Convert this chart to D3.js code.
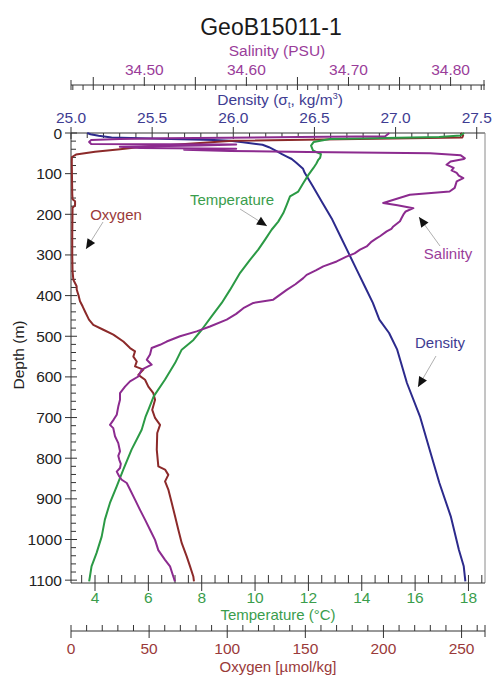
<!DOCTYPE html>
<html>
<head>
<meta charset="utf-8">
<script src="https://cdn.jsdelivr.net/npm/d3@7"></script>
<style>
  body { margin: 0; background: #fff; }
  svg { display: block; }
  text { font-family: "Liberation Sans", Arial, Helvetica, sans-serif; }
</style>
</head>
<body>
<svg id="chart" width="494" height="675"></svg>
<script>
// CTD station GeoB15011-1: profiles as [depth (m), value]
const temperatureProfile = [
  [0,17.84],[6,17.7],[10,16.9],[15,12.8],[22,12.2],[31,12.1],[43,12.17],[52,12.47],[61,12.44],
  [66,12.37],[75,12.3],[86,12.19],[103,12.0],[123,11.81],[144,11.62],[156,11.31],[176,11.19],
  [197,11.06],[218,10.87],[238,10.62],[263,10.37],[287,10.12],[312,9.81],[344,9.44],[386,9.06],
  [418,8.75],[451,8.37],[484,8.0],[509,7.69],[533,7.25],[566,7.0],[607,6.62],[648,6.2],[681,6.0],
  [697,5.9],[730,5.75],[779,5.37],[828,5.06],[870,4.81],[910,4.56],[951,4.37],[993,4.25],
  [1033,4.06],[1066,3.87],[1091,3.81],[1103,3.78]
];

const salinityProfile = [
  [0,34.740],[8,34.736],[10,34.652],[13,34.521],[15,34.476],[17,34.448],[22,34.446],[27,34.448],
  [28,34.590],[31,34.555],[34,34.476],[37,34.496],[39,34.590],[41,34.539],[44,34.584],[47,34.66],
  [50,34.78],[55,34.81],[62,34.814],[64,34.813],[70,34.800],[78,34.796],[86,34.803],[92,34.801],
  [98,34.806],[105,34.808],[111,34.8125],[119,34.806],[127,34.805],[135,34.804],[144,34.799],
  [152,34.760],[172,34.734],[178,34.748],[185,34.7635],[193,34.756],[201,34.7537],[209,34.752],
  [217,34.7504],[230,34.7439],[236,34.742],[242,34.7374],[254,34.7308],[260,34.727],[267,34.7227],
  [279,34.7178],[287,34.7113],[296,34.706],[304,34.698],[316,34.6884],[328,34.6753],[338,34.668],
  [349,34.659],[357,34.6557],[372,34.648],[386,34.6395],[410,34.6263],[418,34.6068],[431,34.597],
  [445,34.590],[459,34.5807],[476,34.5643],[488,34.5513],[500,34.535],[513,34.5219],[521,34.5154],
  [529,34.5072],[545,34.5056],[558,34.5024],[570,34.5072],[582,34.4975],[599,34.4941],[611,34.486],
  [624,34.4811],[640,34.4762],[656,34.4762],[673,34.4745],[693,34.473],[705,34.470],[718,34.4664],
  [726,34.4696],[746,34.4713],[763,34.4745],[783,34.4762],[794,34.4745],[804,34.4755],[814,34.4770],
  [824,34.4762],[833,34.473],[845,34.4755],[853,34.4779],[861,34.4828],[877,34.486],[902,34.4909],
  [927,34.4958],[951,34.5007],[976,34.5056],[1001,34.5105],[1026,34.5137],[1050,34.5203],
  [1066,34.5252],[1091,34.5284],[1103,34.53]
];

const densityProfile = [
  [0,25.10],[3,25.12],[7,25.17],[11,25.25],[14,25.55],[17,25.88],[19,25.98],[23,26.06],[29,26.18],
  [35,26.22],[45,26.27],[52,26.30],[58,26.33],[64,26.36],[74,26.39],[88,26.43],[98,26.44],
  [131,26.49],[172,26.55],[213,26.61],[254,26.66],[295,26.71],[336,26.76],[377,26.81],[418,26.86],
  [459,26.90],[492,26.96],[533,27.01],[615,27.07],[697,27.15],[779,27.21],[861,27.27],[943,27.34],
  [1025,27.39],[1066,27.42],[1103,27.43]
];

const oxygenProfile = [
  [0,249.6],[6,251],[11,250.5],[19,103.5],[35,42.7],[40,31.4],[46,15.4],[53,3.2],[59,0.6],[70,0.5],
  [100,0.6],[150,0.8],[163,1.0],[168,2.6],[178,2.6],[184,1.0],[250,0.8],[300,0.8],[340,1.0],
  [361,1.5],[377,3.6],[385,3.65],[402,5.0],[414,5.76],[427,7.5],[439,8.96],[459,11.5],[472,14.27],
  [484,20.7],[496,27.1],[513,33.5],[529,37.8],[537,41],[550,39.9],[562,42.1],[574,41],[582,46.3],
  [595,43.1],[607,47.4],[624,49.5],[640,52.7],[656,53.8],[681,52],[701,53.8],[718,57.0],[738,55.2],
  [779,54.9],[820,55.9],[828,60.2],[841,62.3],[857,60.2],[877,62.3],[910,64.5],[943,66.6],
  [976,68.7],[1009,70.9],[1042,74.1],[1066,76.2],[1091,78.3],[1103,78.7]
];

// Tick labels per axis
const depthTicks = [0,100,200,300,400,500,600,700,800,900,1000,1100];
const salinityTicks = [34.50,34.60,34.70,34.80];
const densityTicks = [25.0,25.5,26.0,26.5,27.0,27.5];
const temperatureTicks = [4,6,8,10,12,14,16,18];
const oxygenTicks = [0,50,100,150,200,250];

const colors = {
  temperature: "#2b9a45", temperatureText: "#3a9d4c",
  salinity: "#8c2b8f", salinityText: "#9a3d9a",
  density: "#2c2a8c", densityText: "#3e3c92",
  oxygen: "#8c2a2a", oxygenText: "#9a3a3a",
  axis: "#333"
};

const L = 71, R = 485, T = 133, B = 583;
const y = d3.scaleLinear().domain([0, 1107]).range([T, B]);
const xT = d3.scaleLinear().domain([3.1, 18.62]).range([L, R]);
const xS = d3.scaleLinear().domain([34.4282, 34.8337]).range([L, R]);
const xD = d3.scaleLinear().domain([25, 27.551]).range([L, R]);
const xO = d3.scaleLinear().domain([0, 265]).range([L, R]);
const identity = d => d;

const svg = d3.select("#chart");

// Title
svg.append("text").attr("x", 271).attr("y", 35).attr("text-anchor", "middle")
  .attr("font-size", 23).attr("fill", "#1a1a1a").text("GeoB15011-1");

// Helpers for the horizontal axes
function hTicks(g, scale, values, yPos, up, down) {
  g.selectAll(null).data(values).join("line")
    .attr("x1", d => scale(d)).attr("x2", d => scale(d))
    .attr("y1", yPos - up).attr("y2", yPos + down)
    .attr("stroke", colors.axis).attr("stroke-width", 1);
}
function hLine(g, yPos) {
  g.append("line").attr("x1", L).attr("x2", R).attr("y1", yPos).attr("y2", yPos)
    .attr("stroke", colors.axis).attr("stroke-width", 1);
}
function hLabels(g, scale, values, yBase, fmt, fill, size) {
  g.selectAll(null).data(values).join("text")
    .attr("x", d => scale(d)).attr("y", yBase).attr("text-anchor", "middle")
    .attr("font-size", size || 15.5).attr("fill", fill).text(fmt);
}

// Salinity axis (top)
const gS = svg.append("g");
const sY = 85;
hLine(gS, sY);
hTicks(gS, xS, d3.range(3443, 3484).filter(v => v % 5 !== 0).map(v => v / 100), sY, 0, 5);
hTicks(gS, xS, d3.range(3445, 3484, 10).map(v => v / 100), sY, 8, 5);
hTicks(gS, xS, salinityTicks, sY, 8, 1);
hTicks(gS, identity, [L, R - 1], sY, 5, 5);
hLabels(gS, xS, salinityTicks, 75, d3.format(".2f"), colors.salinityText);
gS.append("text").attr("x", 277).attr("y", 56).attr("text-anchor", "middle")
  .attr("font-size", 15.5).attr("fill", colors.salinityText).text("Salinity (PSU)");

// Density axis (top of plot)
const gD = svg.append("g");
hLine(gD, T);
hTicks(gD, xD, d3.range(251, 276).filter(v => v % 5 !== 0).map(v => v / 10), T, 0, 5);
hTicks(gD, xD, densityTicks, T, 6, 6);
hLabels(gD, xD, densityTicks, 122.5, d3.format(".1f"), colors.densityText);
const dt = gD.append("text").attr("x", 280).attr("y", 104.5).attr("text-anchor", "middle")
  .attr("font-size", 15.5).attr("fill", colors.densityText);
dt.append("tspan").text("Density (σ");
dt.append("tspan").attr("font-size", 9).attr("dy", 3).text("t");
dt.append("tspan").attr("dy", -3).text(", kg/m");
dt.append("tspan").attr("font-size", 9).attr("dy", -6).text("3");
dt.append("tspan").attr("dy", 6).text(")");

// Depth axis (left)
const gY = svg.append("g");
gY.append("line").attr("x1", L).attr("x2", L).attr("y1", T).attr("y2", B)
  .attr("stroke", colors.axis).attr("stroke-width", 1);
gY.selectAll(null).data(d3.range(0, 1101, 20).filter(v => v % 100 !== 0)).join("line")
  .attr("x1", L).attr("x2", L + 5).attr("y1", d => y(d)).attr("y2", d => y(d))
  .attr("stroke", colors.axis);
gY.selectAll(null).data(depthTicks).join("line")
  .attr("x1", L - 6).attr("x2", L + 6).attr("y1", d => y(d)).attr("y2", d => y(d))
  .attr("stroke", colors.axis);
gY.selectAll(null).data(depthTicks).join("text")
  .attr("x", L - 9).attr("y", d => y(d) + 5.5).attr("text-anchor", "end")
  .attr("font-size", 15.5).attr("fill", "#222").text(d => d);
gY.append("text").attr("transform", "translate(24,355) rotate(-90)").attr("text-anchor", "middle")
  .attr("font-size", 15.5).attr("fill", "#222").text("Depth (m)");

// Right frame
svg.append("line").attr("x1", R).attr("x2", R).attr("y1", T).attr("y2", B)
  .attr("stroke", "#8a8a8a").attr("stroke-width", 1);

// Temperature axis (bottom of plot)
const gT = svg.append("g");
hLine(gT, B);
hTicks(gT, xT, d3.range(7, 38).filter(v => v % 4 !== 0).map(v => v / 2), B, 8, 0);
hTicks(gT, xT, temperatureTicks, B, 8, 8);
hLabels(gT, xT, temperatureTicks, 602.5, identity, colors.temperatureText, 15.5);
gT.append("text").attr("x", 278).attr("y", 619.5).attr("text-anchor", "middle")
  .attr("font-size", 15).attr("fill", colors.temperatureText).text("Temperature (°C)");

// Oxygen axis (separate, below)
const gO = svg.append("g");
const oY = 631;
hLine(gO, oY);
hTicks(gO, xO, d3.range(10, 265, 10).filter(v => v % 50 !== 0), oY, 6, 0);
hTicks(gO, xO, oxygenTicks, oY, 6, 7);
hTicks(gO, identity, [R], oY, 6, 6);
hLabels(gO, xO, oxygenTicks, 654, identity, colors.oxygenText, 15.5);
gO.append("text").attr("x", 278).attr("y", 671.5).attr("text-anchor", "middle")
  .attr("font-size", 15).attr("fill", colors.oxygenText).text("Oxygen [µmol/kg]");

// Profiles
const plot = svg.append("g");
function profile(data, xs, color) {
  const line = d3.line().x(d => xs(d[1])).y(d => y(d[0]));
  plot.append("path").datum(data).attr("d", line).attr("fill", "none")
    .attr("stroke", color).attr("stroke-width", 2).attr("stroke-linejoin", "round");
}
profile(densityProfile, xD, colors.density);
profile(oxygenProfile, xO, colors.oxygen);
profile(temperatureProfile, xT, colors.temperature);
profile(salinityProfile, xS, colors.salinity);

// Annotations: label, leader line and arrowhead
const notes = [
  { text: "Oxygen", x: 116, y: 220, fill: colors.oxygenText, from: [103, 222], to: [86, 249] },
  { text: "Temperature", x: 232, y: 205, fill: colors.temperatureText, from: [240, 209], to: [267, 226] },
  { text: "Salinity", x: 448, y: 259, fill: colors.salinityText, from: [440, 246], to: [419, 217] },
  { text: "Density", x: 440, y: 348, fill: colors.densityText, from: [436, 356], to: [418, 387] }
];
const gN = svg.append("g");
notes.forEach(n => {
  gN.append("text").attr("x", n.x).attr("y", n.y).attr("text-anchor", "middle")
    .attr("font-size", 15).attr("fill", n.fill).text(n.text);
  gN.append("line").attr("x1", n.from[0]).attr("y1", n.from[1]).attr("x2", n.to[0]).attr("y2", n.to[1])
    .attr("stroke", "#9a9a9a").attr("stroke-width", 0.8);
  const ang = Math.atan2(n.to[1] - n.from[1], n.to[0] - n.from[0]);
  const len = 10, w = 4.5;
  const bx = n.to[0] - len * Math.cos(ang), by = n.to[1] - len * Math.sin(ang);
  const px = -Math.sin(ang) * w, py = Math.cos(ang) * w;
  gN.append("path")
    .attr("d", `M${n.to[0]},${n.to[1]}L${bx + px},${by + py}L${bx - px},${by - py}Z`)
    .attr("fill", "#111");
});
</script>
</body>
</html>
